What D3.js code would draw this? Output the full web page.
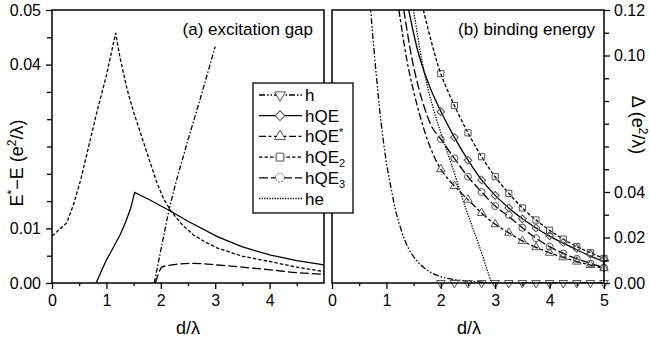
<!DOCTYPE html>
<html><head><meta charset="utf-8">
<script src="https://cdn.jsdelivr.net/npm/d3@7"></script>
<style>
body{margin:0;background:#fff;}
svg text{font-family:"Liberation Sans",Arial,Helvetica,sans-serif;fill:#000;}
</style></head>
<body><svg id="c" width="650" height="343"></svg>
<script>
// ---------- DATA ----------
// Panel (a): excitation gap E*-E vs d/lambda
const gapQE_d  = [0.81,0.9,1.0,1.1,1.25,1.35,1.44,1.52,1.8,2.19,2.5,3.04,3.5,4.02,4.5,5.0];
const gapQE_E  = [0,0.002,0.0042,0.006,0.0088,0.0111,0.0135,0.0166,0.0152,0.0131,0.0113,0.0085,0.0066,0.0051,0.0041,0.0033];
const gapQE2_d = [0,0.27,0.4,0.53,0.82,1.0,1.17,1.25,1.38,1.5,1.62,1.8,1.93,2.05,2.19,2.4,2.6,2.8,3.04,3.5,4.02,4.5,5.0];
const gapQE2_E = [0.0086,0.011,0.0145,0.019,0.0311,0.038,0.0458,0.0413,0.0355,0.0313,0.0277,0.0222,0.0183,0.0155,0.0131,0.0106,0.0088,0.0076,0.0064,0.0049,0.0039,0.0029,0.0021];
const gapStar_d = [1.88,2.0,2.15,2.29,2.5,2.75,3.0];
const gapStar_E = [0,0.006,0.0134,0.0189,0.0262,0.0346,0.0433];
const gapQE3_d = [1.9,1.95,2.02,2.2,2.55,3.04,3.5,4.02,4.5,5.0];
const gapQE3_E = [0,0.0015,0.0029,0.0033,0.0036,0.0033,0.0029,0.0024,0.0019,0.0016];

// Panel (b): binding energy Delta vs d/lambda
const markD = [2.0,2.25,2.5,2.75,3.0,3.25,3.5,3.75,4.0,4.25,4.5,4.75,5.0];
const mark_h    = [0,0,0,0,0,0,0,0,0,0,0,0,0];
const mark_hQE  = [0.0753,0.064,0.054,0.0453,0.0385,0.033,0.0282,0.0242,0.0208,0.0178,0.0152,0.0127,0.0105];
const mark_hQEs = [0.050,0.0426,0.0366,0.0308,0.0258,0.0221,0.0185,0.0157,0.0133,0.0113,0.0094,0.0079,0.0065];
const mark_hQE2 = [0.092,0.078,0.066,0.0555,0.0467,0.0394,0.033,0.0277,0.0232,0.0193,0.016,0.0133,0.0108];
const mark_hQE3 = [0.0632,0.0548,0.0467,0.040,0.0338,0.0299,0.0243,0.0197,0.016,0.013,0.0106,0.0086,0.0068];

const line_h_d   = [0.7,0.8,0.9,1.0,1.1,1.2,1.4,1.6,1.8,2.0,2.2,2.5,2.8,3.0,3.5,4.0,4.5,5.0];
const line_h_v   = [0.123,0.095,0.071,0.053,0.040,0.029,0.0155,0.0087,0.0049,0.0028,0.0017,0.0008,0.0003,0.0001,0,0,0,0];
const line_he_d  = [1.5,1.65,1.8,2.0,2.19,2.47,2.71,2.93];
const line_he_v  = [0.12,0.098,0.082,0.066,0.0526,0.032,0.016,0.0];
const line_hQE_d  = [1.41,1.6,1.8,2.0,2.25,2.5,2.75,3.0,3.25,3.5,3.75,4.0,4.25,4.5,4.75,5.0];
const line_hQE_v  = [0.12,0.1,0.086,0.0755,0.064,0.054,0.0453,0.0385,0.033,0.0282,0.0242,0.0206,0.0175,0.0146,0.0118,0.0094];
const line_hQEs_d = [1.23,1.4,1.6,1.8,2.0,2.25,2.5,2.75,3.0,3.25,3.5,3.75,4.0,4.25,4.5,4.75,5.0];
const line_hQEs_v = [0.12,0.095,0.075,0.060,0.050,0.0426,0.0366,0.0308,0.0258,0.0221,0.0185,0.0157,0.0133,0.0113,0.0094,0.0079,0.0063];
const line_hQE2_d = [1.68,1.85,2.0,2.25,2.5,2.75,3.0,3.25,3.5,3.75,4.0,4.25,4.5,4.75,5.0];
const line_hQE2_v = [0.12,0.104,0.092,0.078,0.066,0.0555,0.0467,0.0394,0.033,0.0277,0.0232,0.0193,0.016,0.0133,0.0108];
const line_hQE3_d = [1.32,1.5,1.7,1.85,2.0,2.25,2.5,2.75,3.0,3.25,3.5,3.75,4.0,4.25,4.5,4.75,5.0];
const line_hQE3_v = [0.12,0.095,0.077,0.068,0.0632,0.0548,0.0467,0.040,0.0338,0.0292,0.0243,0.0197,0.016,0.013,0.0106,0.0086,0.0067];

const xTicksA = [0,1,2,3,4];
const xTicksB = [0,1,2,3,4,5];
const yTicksA = [0,0.01,0.04,0.05];
const yTicksB = [0,0.02,0.04,0.10,0.12];
const legendNames = ["h","hQE","hQE*","hQE2","hQE3","he"];

// ---------- LAYOUT ----------
const svg = d3.select("#c");
const T0 = 10, B0 = 283;
const xa = d3.scaleLinear().domain([0,5]).range([52,324]);
const ya = d3.scaleLinear().domain([0,0.05]).range([B0,T0]);
const xb = d3.scaleLinear().domain([0,5]).range([332,604]);
const yb = d3.scaleLinear().domain([0,0.12]).range([B0,T0]);

const styles = {
  h:    "6,2,1.5,2,1.5,2",
  hQE:  null,
  hQEs: "7,2.5,3,2.5",
  hQE2: "3.5,2",
  hQE3: "9,3",
  he:   "1.3,1.3"
};

function drawLine(g, xs, ys, xsArr, ysArr, dash, curve){
  const pts = xsArr.map((d,i)=>[d, ysArr[i]]);
  g.append("path").datum(pts)
   .attr("d", d3.line().x(p=>xs(p[0])).y(p=>ys(p[1])).curve(curve||d3.curveLinear))
   .attr("fill","none").attr("stroke","#000").attr("stroke-width",1.3)
   .attr("stroke-dasharray", dash);
}

const defs = svg.append("defs");
defs.append("clipPath").attr("id","ca").append("rect").attr("x",52).attr("y",T0).attr("width",272).attr("height",B0-T0);
defs.append("clipPath").attr("id","cb").append("rect").attr("x",332).attr("y",T0).attr("width",272).attr("height",B0-T0);

// ---- Panel (a)
const ga = svg.append("g").attr("clip-path","url(#ca)");
drawLine(ga, xa, ya, gapQE_d, gapQE_E, styles.hQE, d3.curveLinear);
drawLine(ga, xa, ya, gapQE2_d, gapQE2_E, styles.hQE2, d3.curveLinear);
drawLine(ga, xa, ya, gapStar_d, gapStar_E, "5,2,1.5,2", d3.curveLinear);
drawLine(ga, xa, ya, gapQE3_d, gapQE3_E, styles.hQE3, d3.curveMonotoneX);

svg.append("rect").attr("x",52).attr("y",T0).attr("width",272).attr("height",B0-T0)
  .attr("fill","none").attr("stroke","#000").attr("stroke-width",1.5);
svg.append("g").attr("transform",`translate(0,${B0})`)
  .call(d3.axisBottom(xa).tickValues(xTicksA).tickSize(6).tickPadding(6).tickFormat(d3.format("d")));
svg.append("g").attr("transform",`translate(0,${B0})`)
  .call(d3.axisBottom(xa).tickValues([0.5,1.5,2.5,3.5,4.5]).tickSize(3).tickFormat(""));
svg.append("g").attr("transform",`translate(52,0)`)
  .call(d3.axisLeft(ya).tickValues(yTicksA).tickSize(6).tickPadding(5).tickFormat(d3.format(".2f")));
svg.append("g").attr("transform",`translate(52,0)`)
  .call(d3.axisLeft(ya).tickValues([0.005,0.015,0.02,0.025,0.03,0.035,0.045]).tickSize(5).tickFormat(""));

// ---- Panel (b)
const gb = svg.append("g").attr("clip-path","url(#cb)");
drawLine(gb, xb, yb, line_h_d, line_h_v, styles.h, d3.curveCatmullRom);
drawLine(gb, xb, yb, line_he_d, line_he_v, styles.he, d3.curveCatmullRom);
drawLine(gb, xb, yb, line_hQEs_d, line_hQEs_v, styles.hQEs, d3.curveCatmullRom);
drawLine(gb, xb, yb, line_hQE3_d, line_hQE3_v, styles.hQE3, d3.curveCatmullRom);
drawLine(gb, xb, yb, line_hQE_d, line_hQE_v, styles.hQE, d3.curveCatmullRom);
drawLine(gb, xb, yb, line_hQE2_d, line_hQE2_v, styles.hQE2, d3.curveCatmullRom);

const mcol = "#555";
function symPath(type, small){
  let s = d3.symbol(), rot = 0;
  const k = small ? 1 : 1.6;
  if(type==="tridown"){ s.type(d3.symbolTriangle).size(32*k); rot=180; }
  else if(type==="tri"){ s.type(d3.symbolTriangle).size(32*k); }
  else if(type==="dia"){ s.type(d3.symbolSquare).size(30*k); rot=45; }
  else if(type==="sq"){ s.type(d3.symbolSquare).size(38*k); }
  else { s.type(d3.symbolCircle).size(38*k); }
  return {d:s(), rot};
}
function markers(vals, type){
  const g = svg.append("g");
  markD.forEach((d,i)=>{
    const p = symPath(type,true);
    g.append("path").attr("d", p.d)
     .attr("transform",`translate(${xb(d)},${yb(vals[i])}) rotate(${p.rot})`)
     .attr("fill","none").attr("stroke",mcol).attr("stroke-width",1);
  });
}
markers(mark_hQE2,"sq");
markers(mark_hQE3,"circ");
markers(mark_hQE,"dia");
markers(mark_hQEs,"tri");
markers(mark_h,"tridown");

svg.append("rect").attr("x",332).attr("y",T0).attr("width",272).attr("height",B0-T0)
  .attr("fill","none").attr("stroke","#000").attr("stroke-width",1.5);
svg.append("g").attr("transform",`translate(0,${B0})`)
  .call(d3.axisBottom(xb).tickValues(xTicksB).tickSize(6).tickPadding(6).tickFormat(d3.format("d")));
svg.append("g").attr("transform",`translate(0,${B0})`)
  .call(d3.axisBottom(xb).tickValues([0.5,1.5,2.5,3.5,4.5]).tickSize(3).tickFormat(""));
svg.append("g").attr("transform",`translate(604,0)`)
  .call(d3.axisRight(yb).tickValues(yTicksB).tickSize(6).tickPadding(4).tickFormat(d3.format(".2f")));
svg.append("g").attr("transform",`translate(604,0)`)
  .call(d3.axisRight(yb).tickValues([0.01,0.03,0.05,0.06,0.07,0.08,0.09,0.11]).tickSize(5).tickFormat(""));

svg.selectAll(".domain").remove();
svg.selectAll(".tick line").attr("stroke","#000").attr("stroke-width",1.3);
svg.selectAll(".tick text").attr("font-size",16).attr("font-family","Liberation Sans, Arial, sans-serif");

svg.append("text").attr("x",188).attr("y",334).attr("text-anchor","middle").attr("font-size",18).text("d/λ");
svg.append("text").attr("x",469).attr("y",334).attr("text-anchor","middle").attr("font-size",18).text("d/λ");
const yl = svg.append("text").attr("transform","translate(23,163) rotate(-90)").attr("text-anchor","middle").attr("font-size",18);
yl.append("tspan").text("E");
yl.append("tspan").attr("dy",-7).attr("font-size",12).text("*");
yl.append("tspan").attr("dy",7).text("−E (e");
yl.append("tspan").attr("dy",-7).attr("font-size",12).text("2");
yl.append("tspan").attr("dy",7).text("/λ)");
const yr = svg.append("text").attr("transform","translate(632,125) rotate(90)").attr("text-anchor","middle").attr("font-size",18);
yr.append("tspan").text("Δ (e");
yr.append("tspan").attr("dy",-7).attr("font-size",12).text("2");
yr.append("tspan").attr("dy",7).text("/λ)");

svg.append("text").attr("x",313).attr("y",35).attr("text-anchor","end").attr("font-size",17).text("(a) excitation gap");
svg.append("text").attr("x",595).attr("y",35).attr("text-anchor","end").attr("font-size",17).text("(b) binding energy");

// ---- Legend
const lg = svg.append("g");
lg.append("rect").attr("x",253).attr("y",83).attr("width",100).attr("height",130)
  .attr("fill","#fff").attr("stroke","#000").attr("stroke-width",1.3);
const legKeys = ["h","hQE","hQEs","hQE2","hQE3","he"];
const legSym = ["tridown","dia","tri","sq","circ",null];
legKeys.forEach((k,i)=>{
  const y = 95 + i*20.7;
  lg.append("line").attr("x1",259).attr("x2",302).attr("y1",y).attr("y2",y)
    .attr("stroke","#000").attr("stroke-width",1.3).attr("stroke-dasharray",styles[k]);
  const t = legSym[i];
  if(t){
    const p = symPath(t,false);
    lg.append("path").attr("d",p.d).attr("transform",`translate(280,${y}) rotate(${p.rot})`)
      .attr("fill","#fff").attr("stroke",mcol).attr("stroke-width",1)
      .attr("stroke-dasharray", t==="circ" ? "2,1.5" : null);
  }
  const tx = lg.append("text").attr("x",305).attr("y",y+6).attr("font-size",17);
  const nm = legendNames[i];
  if(nm==="hQE*"){ tx.append("tspan").text("hQE"); tx.append("tspan").attr("dy",-6).attr("font-size",11).text("*"); }
  else if(nm==="hQE2"){ tx.append("tspan").text("hQE"); tx.append("tspan").attr("dy",4).attr("font-size",11).text("2"); }
  else if(nm==="hQE3"){ tx.append("tspan").text("hQE"); tx.append("tspan").attr("dy",4).attr("font-size",11).text("3"); }
  else tx.text(nm);
});
</script></body></html>
